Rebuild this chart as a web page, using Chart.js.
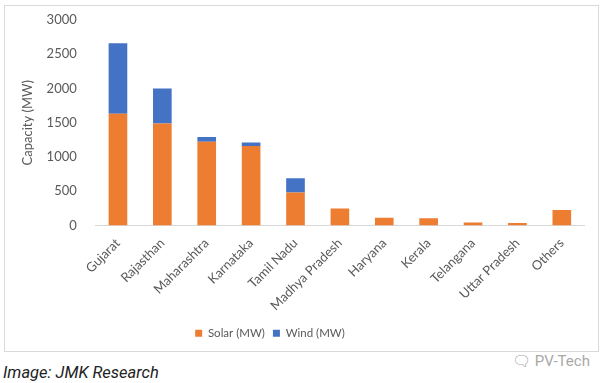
<!DOCTYPE html>
<html>
<head>
<meta charset="utf-8">
<script src="https://cdn.jsdelivr.net/npm/chart.js@4"></script>
<style>
  html, body { margin: 0; padding: 0; background: #fff; }
  body { width: 602px; height: 383px; position: relative; overflow: hidden; }
  .box {
    position: absolute; left: 4px; top: 5px; width: 593px; height: 345px;
    border: 1px solid #d9d9d9; background: #fff;
  }
  .caption {
    position: absolute; left: 3px; top: 363px;
    font-family: Roboto, sans-serif; font-style: italic; font-size: 16.5px; color: #222;
  }
  .mark {
    position: absolute; left: 512px; top: 352px;
    font-family: Roboto, sans-serif; font-size: 15px; color: #a8a8a8;
  }
</style>
</head>
<body>
<div class="box"><canvas id="c" width="593" height="345"></canvas></div>
<div class="caption">Image: JMK Research</div>
<div class="mark">&#x1F5E8; PV-Tech</div>
<script>
// values (MW)
const states = ['Gujarat', 'Rajasthan', 'Maharashtra', 'Karnataka', 'Tamil Nadu',
                'Madhya Pradesh', 'Haryana', 'Kerala', 'Telangana', 'Uttar Pradesh', 'Others'];
const solarMW = [1630, 1490, 1220, 1160, 480, 245, 113, 103, 44, 34, 225];
const windMW  = [1030,  510,   70,   50, 210,   0,   0,   0,  0,  0,   0];
const yTicks  = [0, 500, 1000, 1500, 2000, 2500, 3000];

const txt = '#595959';
Chart.defaults.font.family = "Lato, 'Open Sans', sans-serif";
Chart.defaults.color = txt;

// excel puts the legend a bit left of centre and lower
const legendNudge = {
  id: 'legendNudge',
  afterLayout(chart) {
    const lg = chart.legend;
    lg.right -= 60;
    lg.top += 4;
    lg.bottom += 4;
  }
};

new Chart(document.getElementById('c').getContext('2d'), {
  type: 'bar',
  data: {
    labels: states,
    datasets: [
      { label: 'Solar (MW)', data: solarMW, backgroundColor: '#ed7d31', borderWidth: 0 },
      { label: 'Wind (MW)',  data: windMW,  backgroundColor: '#4472c4', borderWidth: 0 }
    ]
  },
  plugins: [legendNudge],
  options: {
    responsive: false,
    animation: false,
    layout: { padding: { top: 14, right: 14, left: 11, bottom: 6 } },
    datasets: { bar: { categoryPercentage: 1, barPercentage: 0.42 } },
    plugins: {
      legend: {
        position: 'bottom',
        labels: { boxWidth: 7, boxHeight: 7, font: { size: 11.5 }, color: txt, padding: 8 }
      },
      tooltip: { enabled: false }
    },
    scales: {
      x: {
        stacked: true,
        grid: { display: false },
        border: { color: '#d9d9d9' },
        ticks: { minRotation: 45, maxRotation: 45, font: { size: 13 }, color: txt, padding: 2 },
        afterFit: s => { s.paddingLeft = 0; s.paddingRight = 0; }
      },
      y: {
        stacked: true,
        min: 0, max: 3000,
        afterBuildTicks: ax => { ax.ticks = yTicks.map(v => ({ value: v })); },
        afterFit: s => { s.paddingTop = 0; s.paddingBottom = 0; },
        grid: { display: false },
        border: { display: false },
        ticks: { font: { size: 13 }, color: txt, padding: 11, callback: v => String(v) },
        title: { display: true, text: 'Capacity (MW)', font: { size: 13 }, color: txt, padding: { top: 4, bottom: 0 } }
      }
    }
  }
});
</script>
</body>
</html>
